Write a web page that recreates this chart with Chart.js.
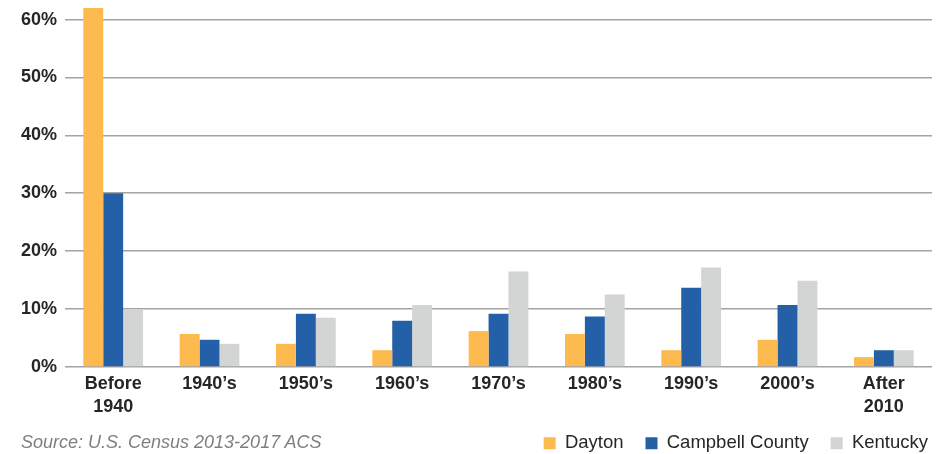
<!DOCTYPE html>
<html>
<head>
<meta charset="utf-8">
<script src="https://cdn.jsdelivr.net/npm/chart.js@4.4.1/dist/chart.umd.min.js"></script>
<style>
	html, body { margin: 0; padding: 0; background: #fff; overflow: hidden; }
	#wrap { position: relative; width: 941px; height: 454px; overflow: hidden; }
	#chart-area { display: block; }
	#source {
		position: absolute; left: 21px; top: 431px;
		font: italic 18px "Liberation Sans", Arial, sans-serif;
		line-height: 22px;
		color: #7f7f7f; white-space: nowrap;
	}
</style>
</head>
<body>
<div id="wrap">
	<canvas id="chart-area" width="941" height="454"></canvas>
	<div id="source">Source: U.S. Census 2013-2017 ACS</div>
</div>
<script>
var categories = [['Before', '1940'], '1940\u2019s', '1950\u2019s', '1960\u2019s', '1970\u2019s', '1980\u2019s', '1990\u2019s', '2000\u2019s', ['After', '2010']];
var dayton = [62, 5.7, 4.0, 2.9, 6.2, 5.7, 2.9, 4.7, 1.7];
var campbell = [30, 4.7, 9.2, 8.0, 9.2, 8.7, 13.7, 10.7, 2.9];
var kentucky = [10, 4.0, 8.5, 10.7, 16.5, 12.5, 17.2, 14.9, 2.9];
var yTicks = [0, 10, 20, 30, 40, 50, 60];

// push the legend row out to the right edge and up a little
var legendNudge = {
	id: 'legendNudge',
	afterLayout: function (chart) {
		var lg = chart.legend;
		var dx = lg.options.labels.padding - 4;
		lg.left += dx;
		lg.right += dx;
		lg.top -= 12;
		lg.bottom = chart.height;
	}
};

var config = {
	type: 'bar',
	data: {
		labels: categories,
		datasets: [
			{ label: 'Dayton', data: dayton, backgroundColor: '#FDBB4F' },
			{ label: 'Campbell County', data: campbell, backgroundColor: '#2460A7' },
			{ label: 'Kentucky', data: kentucky, backgroundColor: '#D3D4D4' }
		]
	},
	options: {
		responsive: false,
		animation: false,
		layout: { padding: { left: 13, right: 9, top: 8, bottom: 0 } },
		datasets: { bar: { categoryPercentage: 0.62, barPercentage: 1.0 } },
		plugins: {
			tooltip: { enabled: false },
			legend: {
				position: 'bottom',
				align: 'end',
				maxHeight: 30,
				labels: {
					boxWidth: 12,
					boxHeight: 12,
					padding: 22,
					color: '#262626',
					font: { family: '"Liberation Sans", Arial, sans-serif', size: 18.5 }
				}
			}
		},
		scales: {
			x: {
				grid: { display: false, drawTicks: false },
				border: { display: false },
				ticks: {
					padding: 6,
					color: '#262626',
					maxRotation: 0,
					font: { family: '"Liberation Sans", Arial, sans-serif', size: 18, weight: 'bold', lineHeight: 1.25 }
				}
			},
			y: {
				min: 0,
				max: 62,
				afterBuildTicks: function (scale) {
					scale.ticks = yTicks.map(function (v) { return { value: v }; });
				},
				afterFit: function (scale) {
					scale.paddingTop = 0;
				},
				border: { display: false },
				grid: { color: '#A4A4A4', lineWidth: 1.6, drawTicks: false },
				ticks: {
					padding: 8,
					color: '#262626',
					font: { family: '"Liberation Sans", Arial, sans-serif', size: 18, weight: 'bold' },
					callback: function (value) { return value + '%'; }
				}
			}
		}
	},
	plugins: [legendNudge]
};

var ctx = document.getElementById('chart-area');
var myBarChart = new Chart(ctx, config);
</script>
</body>
</html>
